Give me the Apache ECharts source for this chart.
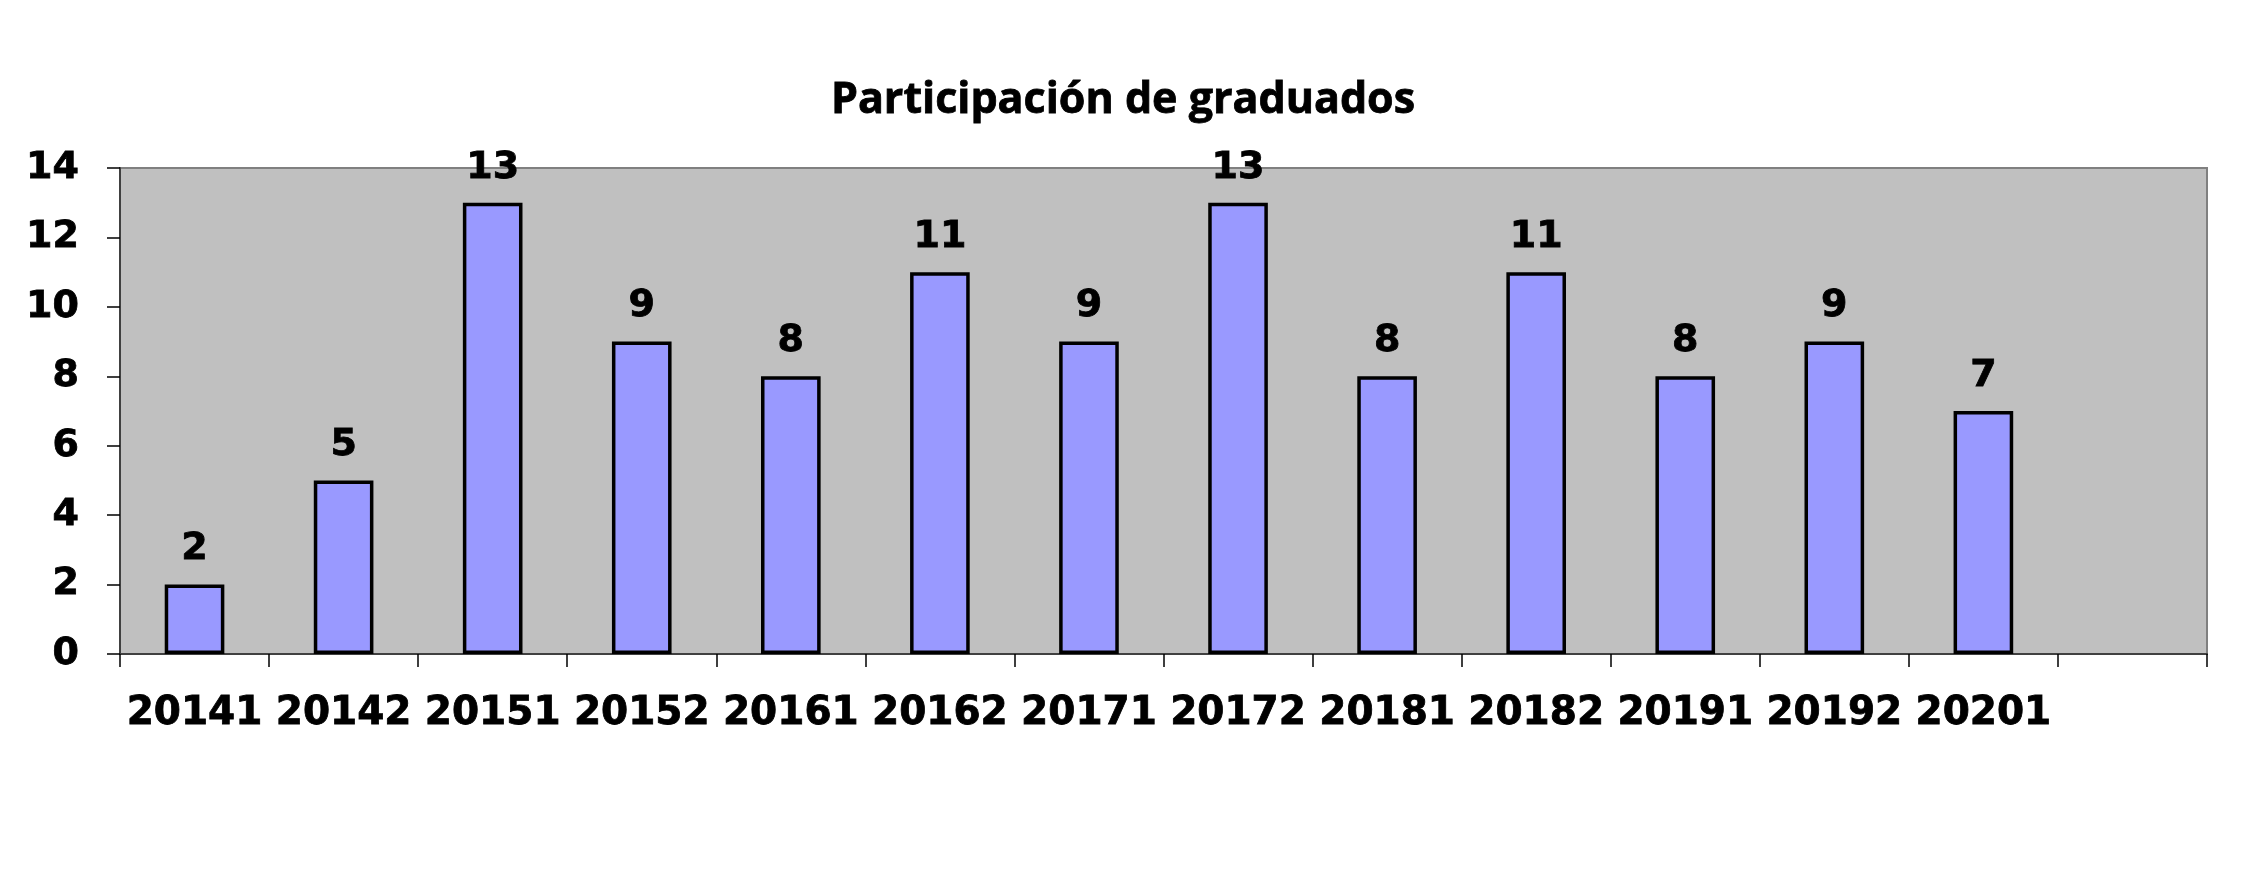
<!DOCTYPE html>
<html>
<head>
<meta charset="utf-8">
<script src="https://cdn.jsdelivr.net/npm/echarts@6/dist/echarts.min.js"></script>
<style>
html,body{margin:0;padding:0;background:#fff;}
#chart{width:2250px;height:870px;}
</style>
</head>
<body>
<div id="chart"></div>
<script>
const titleText = 'Participación de graduados';
const categories = ['20141','20142','20151','20152','20161','20162','20171','20172','20181','20182','20191','20192','20201',''];
const graduados = [2,5,13,9,8,11,9,13,8,11,8,9,7,null];
const yTicks = {min:0, max:14, interval:2};

const chart = echarts.init(document.getElementById('chart'), null, {renderer:'canvas'});
chart.setOption({
  backgroundColor:'#ffffff',
  animation:false,
  title:{
    text:titleText,
    left:1118, textAlign:'center',
    top:74,
    textStyle:{fontFamily:'Open Sans', fontWeight:'bold', fontSize:43, color:'#000', textBorderColor:'#000', textBorderWidth:0.8}
  },
  grid:{
    left:120, right:43, top:168, bottom:216,
    show:true, backgroundColor:'#c0c0c0', borderColor:'#808080', borderWidth:2
  },
  xAxis:{
    type:'category',
    data:categories,
    boundaryGap:true,
    axisLine:{show:true, lineStyle:{color:'#404040', width:2}},
    axisTick:{show:true, length:13, lineStyle:{color:'#000', width:1.5}, interval:0},
    axisLabel:{interval:0, margin:40, fontFamily:'DejaVu Sans', fontWeight:'bold', fontSize:39, color:'#000', textBorderColor:'#000', textBorderWidth:0.8},
    splitLine:{show:false}
  },
  yAxis:{
    type:'value',
    min:yTicks.min, max:yTicks.max, interval:yTicks.interval,
    axisLine:{show:true, lineStyle:{color:'#404040', width:2}},
    axisTick:{show:true, length:13, lineStyle:{color:'#000', width:1.5}},
    axisLabel:{margin:41, fontFamily:'DejaVu Sans', fontWeight:'bold', fontSize:38, color:'#000', textBorderColor:'#000', textBorderWidth:0.8},
    splitLine:{show:false}
  },
  series:[{
    type:'bar',
    data:graduados,
    barCategoryGap:'60%',
    itemStyle:{color:'#9999ff', borderColor:'#000', borderWidth:3.5},
    label:{show:true, position:'top', distance:16, fontFamily:'DejaVu Sans', fontWeight:'bold', fontSize:38, color:'#000', textBorderColor:'#000', textBorderWidth:0.8}
  }]
});
</script>
</body>
</html>
